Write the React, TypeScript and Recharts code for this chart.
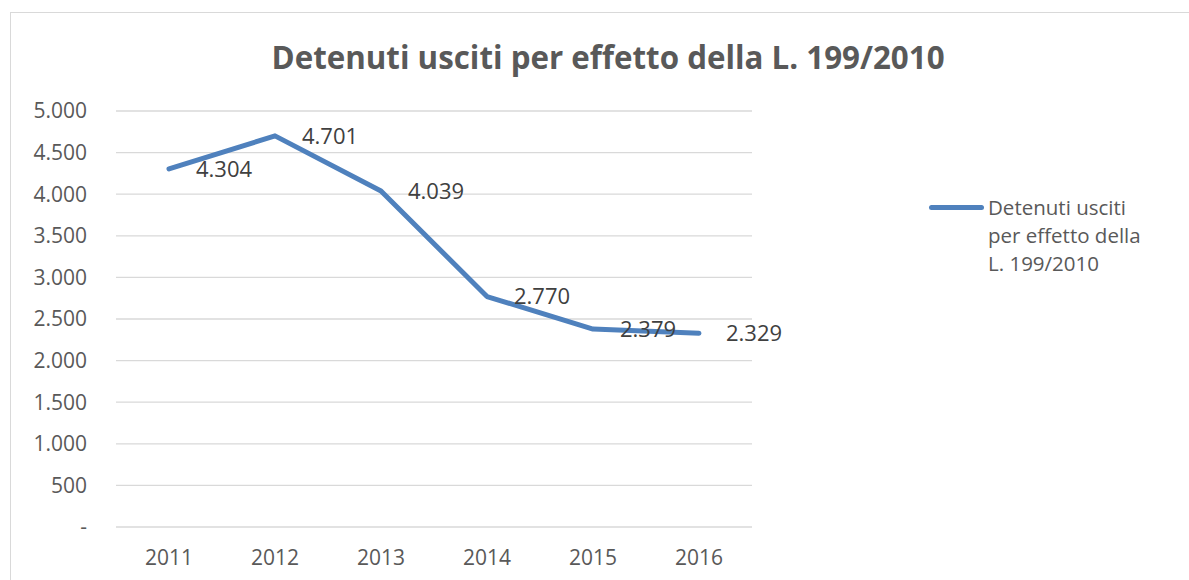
import { LineChart, Line, XAxis, YAxis, CartesianGrid, LabelList } from 'recharts'

const years = ['2011', '2012', '2013', '2014', '2015', '2016']
const released = [4304, 4701, 4039, 2770, 2379, 2329]
const yTicks = [0, 500, 1000, 1500, 2000, 2500, 3000, 3500, 4000, 4500, 5000]

const seriesName = 'Detenuti usciti per effetto della L. 199/2010'
const legendLines = ['Detenuti usciti', 'per effetto della', 'L. 199/2010']

const data = years.map((year, i) => ({ year, value: released[i] }))

const FONT = '"Open Sans", sans-serif'
const BLUE = '#4f81bd'

// Excel-style thousands with a dot, "-" for zero
function fmt(v: number) {
  if (v === 0) return '-'
  return String(v).replace(/\B(?=(\d{3})+(?!\d))/g, '.')
}

function LegendBox() {
  return (
    <div style={{ position: 'absolute', left: 929, top: 193, display: 'flex', alignItems: 'flex-start', fontFamily: FONT }}>
      <div style={{ width: 55, height: 5, borderRadius: 3, background: BLUE, marginTop: 12, marginRight: 4 }} />
      <div style={{ fontSize: 20.5, lineHeight: '28px', color: '#595959' }}>
        {legendLines.map((l) => (
          <div key={l}>{l}</div>
        ))}
      </div>
    </div>
  )
}

export default function App() {
  return (
    <div style={{ position: 'absolute', left: 0, top: 0, width: 1189, height: 580, overflow: 'hidden', background: '#fff' }}>
      <div
        style={{
          position: 'absolute',
          left: 10,
          top: 12,
          width: 1189,
          height: 600,
          border: '1px solid #d9d9d9',
        }}
      />
      <svg width={1189} height={100} style={{ position: 'absolute', left: 0, top: 0 }}>
        <text x={608} y={69} textAnchor="middle" fontFamily={FONT} fontWeight={700} fontSize={31.3} fill="#595959">
          {seriesName}
        </text>
      </svg>
      <div style={{ position: 'absolute', left: 0, top: 0 }}>
        <LineChart width={1189} height={580} data={data} margin={{ top: 111, right: 437, bottom: 0, left: 0 }}>
          <CartesianGrid vertical={false} stroke="#d9d9d9" strokeWidth={1.3} />
          <XAxis
            dataKey="year"
            height={53}
            axisLine={false}
            tickLine={false}
            tickMargin={17}
            padding={{ left: 53, right: 53 }}
            tick={{ fill: '#595959', fontSize: 21, fontFamily: FONT }}
          />
          <YAxis
            width={116}
            domain={[0, 5000]}
            ticks={yTicks}
            axisLine={false}
            tickLine={false}
            tickMargin={23}
            tickFormatter={fmt}
            tick={{ fill: '#595959', fontSize: 21, fontFamily: FONT }}
          />
          <Line
            name={seriesName}
            dataKey="value"
            stroke={BLUE}
            strokeWidth={5}
            strokeLinecap="round"
            strokeLinejoin="round"
            dot={false}
            activeDot={false}
            isAnimationActive={false}
          >
            <LabelList
              dataKey="value"
              position="right"
              offset={27}
              formatter={(v: any) => fmt(Number(v))}
              fill="#404040"
              fontSize={22}
              fontFamily={FONT}
            />
          </Line>
        </LineChart>
      </div>
      <LegendBox />
    </div>
  )
}
